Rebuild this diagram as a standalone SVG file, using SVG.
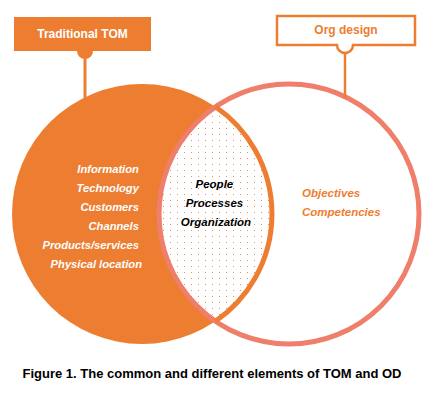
<svg xmlns="http://www.w3.org/2000/svg" width="435" height="397" viewBox="0 0 435 397">
<style>
.t{font-family:"Liberation Sans",Arial,sans-serif;font-weight:bold}
.it{font-style:italic;font-size:11.5px}
.sm{font-size:11.2px}
.w{fill:#FFFFFF}
.o{fill:#ED7D31}
.k{fill:#000000}
.conn{stroke:#ED7D31;fill:none}
</style>
<defs>
<pattern id="dots" width="7" height="6" patternUnits="userSpaceOnUse">
<rect x="2" y="2" width="1" height="1" fill="#ED7D31" fill-opacity="0.85"/>
</pattern>
</defs>
<rect width="435" height="397" fill="#FFFFFF"/>
<g id="tom-circle">
<circle cx="142" cy="214" r="130" fill="#ED7D31"/>
</g>
<g id="common">
<path d="M215.5,106.8 A130,130 0 0 1 215.5,321.2 A130,130 0 0 1 215.5,106.8 Z" fill="#FFFFFF"/>
<path d="M215.5,106.8 A130,130 0 0 1 215.5,321.2 A130,130 0 0 1 215.5,106.8 Z" fill="url(#dots)"/>
</g>
<g id="od-circle">
<circle cx="289" cy="214" r="130" fill="none" stroke="#EF7E6A" stroke-width="5"/>
<path d="M215.5,106.8 A130,130 0 0 1 215.5,321.2" fill="none" stroke="#ED7D31" stroke-width="5"/>
</g>
<g id="connectors">
<line class="conn" x1="85" y1="55" x2="85" y2="99" stroke-width="3"/>
<line class="conn" x1="345" y1="53" x2="345" y2="98" stroke-width="2.5"/>
</g>
<g id="label-tom">
<path d="M14,17 H151 V51 H93 A8,8 0 0 1 77,51 H14 Z" fill="#ED7D31"/>
<text class="t w" x="82.5" y="38" font-size="12" text-anchor="middle">Traditional TOM</text>
</g>
<g id="label-od">
<path d="M277,16 H415 V45 H353 A8,8 0 0 1 337,45 H277 Z" fill="#FFFFFF" stroke="#ED7D31" stroke-width="2.5"/>
<text class="t o" x="346" y="34" font-size="12" text-anchor="middle">Org design</text>
</g>
<g id="tom-items">
<text class="t it sm w" text-anchor="end">
<tspan x="142" y="173">Information</tspan>
<tspan x="142" y="192">Technology</tspan>
<tspan x="142" y="211">Customers</tspan>
<tspan x="142" y="230">Channels</tspan>
<tspan x="142" y="249">Products/services</tspan>
<tspan x="142" y="268">Physical location</tspan>
</text>
</g>
<g id="common-items">
<text class="t it k" text-anchor="middle">
<tspan x="216" y="188">People</tspan>
<tspan x="216" y="207">Processes</tspan>
<tspan x="216" y="226">Organization</tspan>
</text>
</g>
<g id="od-items">
<text class="t it o">
<tspan x="302" y="197">Objectives</tspan>
<tspan x="302" y="216">Competencies</tspan>
</text>
</g>
<text class="t k" x="212" y="378" font-size="13" text-anchor="middle">Figure 1. The common and different elements of TOM and OD</text>
</svg>
